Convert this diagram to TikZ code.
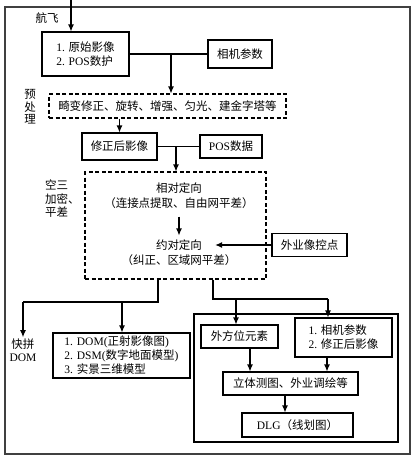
\documentclass[tikz,border=0pt]{standalone}
\usepackage{fontspec}
\setmainfont{Liberation Serif}
\newfontfamily\cjk{Noto Sans CJK SC}
\newcommand\zh[1]{{\cjk #1}}
\usetikzlibrary{arrows.meta,calc}
\begin{document}
\begin{tikzpicture}[x=1pt,y=-1pt,
  every node/.style={font=\fontsize{11.5}{14}\selectfont, inner sep=1pt},
  box/.style={draw, line width=1.1pt, align=left},
  dbox/.style={draw, line width=1.1pt, dash pattern=on 4pt off 2.5pt},
  line/.style={line width=1.1pt},
  arr/.style={line width=1.1pt, -{Latex[length=7pt,width=6pt]}},
  lbl/.style={align=center, font=\fontsize{11.5}{13.5}\selectfont}]
\useasboundingbox (0,0) rectangle (416,459);
% frames
\node[draw=black!75, line width=1.5pt, minimum width=405pt, minimum height=447pt, inner sep=0pt] (outer) at (207.5,230.5) {};
\node[draw, line width=1.3pt, minimum width=204pt, minimum height=128pt, inner sep=0pt] (frame) at (296,378) {};
% boxes
\node[box, minimum width=87pt, minimum height=44pt] (box1) at (85.5,54) {1. \zh{原始影像}\\2. POS\zh{数护}};
\node[box, minimum width=64pt, minimum height=28pt] (cam) at (240,54) {\zh{相机参数}};
\node[dbox, minimum width=237pt, minimum height=24pt] (pre) at (167.5,106) {\zh{畸变修正、旋转、增强、匀光、建金字塔等}};
\node[box, minimum width=75pt, minimum height=27pt] (corr) at (119.5,146.5) {\zh{修正后影像}};
\node[box, minimum width=62pt, minimum height=23pt] (pos) at (231,146.5) {POS\zh{数据}};
\node[dbox, minimum width=181pt, minimum height=107pt] (aero) at (175.5,225.5) {};
\node (r1) at (179,188) {\zh{相对定向}};
\node (r1b) at (179,203) {\zh{（连接点提取、自由网平差）}};
\node (ab1) at (179,245) {\zh{约对定向}};
\node (ab1b) at (179,260) {\zh{（纠正、区域网平差）}};
\node[box, minimum width=75pt, minimum height=23pt] (gcp) at (309.5,245) {\zh{外业像控点}};
\node[box, minimum width=137pt, minimum height=45pt] (out3) at (121.5,355.5) {1. DOM(\zh{正射影像图})\\2. DSM(\zh{数字地面模型})\\3. \zh{实景三维模型}};
\node[box, minimum width=77pt, minimum height=23pt] (ext) at (239.5,336.5) {\zh{外方位元素}};
\node[box, minimum width=97pt, minimum height=39pt] (cam2) at (343.5,337.5) {1. \zh{相机参数}\\2. \zh{修正后影像}};
\node[box, minimum width=135pt, minimum height=23pt] (stereo) at (290.5,383.5) {\zh{立体测图、外业调绘等}};
\node[box, minimum width=111pt, minimum height=24pt] (dlg) at (297.5,425) {DLG\zh{（线划图）}};
% labels
\node[lbl] (hf) at (47,18) {\zh{航飞}};
\node[lbl, font=\fontsize{11.5}{12.5}\selectfont] (yc) at (30,107) {\zh{预}\\\zh{处}\\\zh{理}};
\node[lbl, align=left, anchor=west] (ks) at (44,199) {\zh{空三}\\\zh{加密、}\\\zh{平差}};
\node[lbl] (kp) at (23,350) {\zh{快拼}\\DOM};
% junctions
\coordinate (top) at (71,0);
\coordinate (j1) at (171,54);
\coordinate (j2) at (176,146.5);
\coordinate (b1) at (158,302);
\coordinate (kpc) at (23,302);
\coordinate (b1m) at (122,302);
\coordinate (b2) at (213,299);
\coordinate (b3) at (328,299);
\coordinate (b2m) at (236,299);
% connectors
\draw[arr] (top) -- (top |- box1.north);
\draw[line] (box1.east) -- (cam.west);
\draw[arr] (j1) -- (j1 |- pre.north);
\draw[arr] (pre.south -| corr.north) -- (corr.north);
\draw[line] (corr.east) -- (pos.west);
\draw[arr] (j2) -- (j2 |- aero.north);
\draw[arr, shorten <=7pt, shorten >=3pt] (r1b.south) -- (ab1.north);
\draw[arr, shorten >=12pt] (gcp.west) -- (ab1.east);
\draw[line] (aero.south -| b1) -- (b1) -- (kpc);
\draw[arr] (kpc) -- (kp.north);
\draw[arr] (b1m) -- (b1m |- out3.north);
\draw[line] (aero.south -| b2) -- (b2) -- (b3);
\draw[arr] (b3) -- (b3 |- cam2.north);
\draw[arr] (b2m) -- (b2m |- ext.north);
\draw[arr] ([xshift=10.5pt]ext.south) -- ([xshift=10.5pt]ext.south |- stereo.north);
\draw[arr] ([xshift=-16.5pt]cam2.south) -- ([xshift=-16.5pt]cam2.south |- stereo.north);
\draw[arr] ([xshift=-5.5pt]stereo.south) -- ([xshift=-5.5pt]stereo.south |- dlg.north);
\end{tikzpicture}
\end{document}
